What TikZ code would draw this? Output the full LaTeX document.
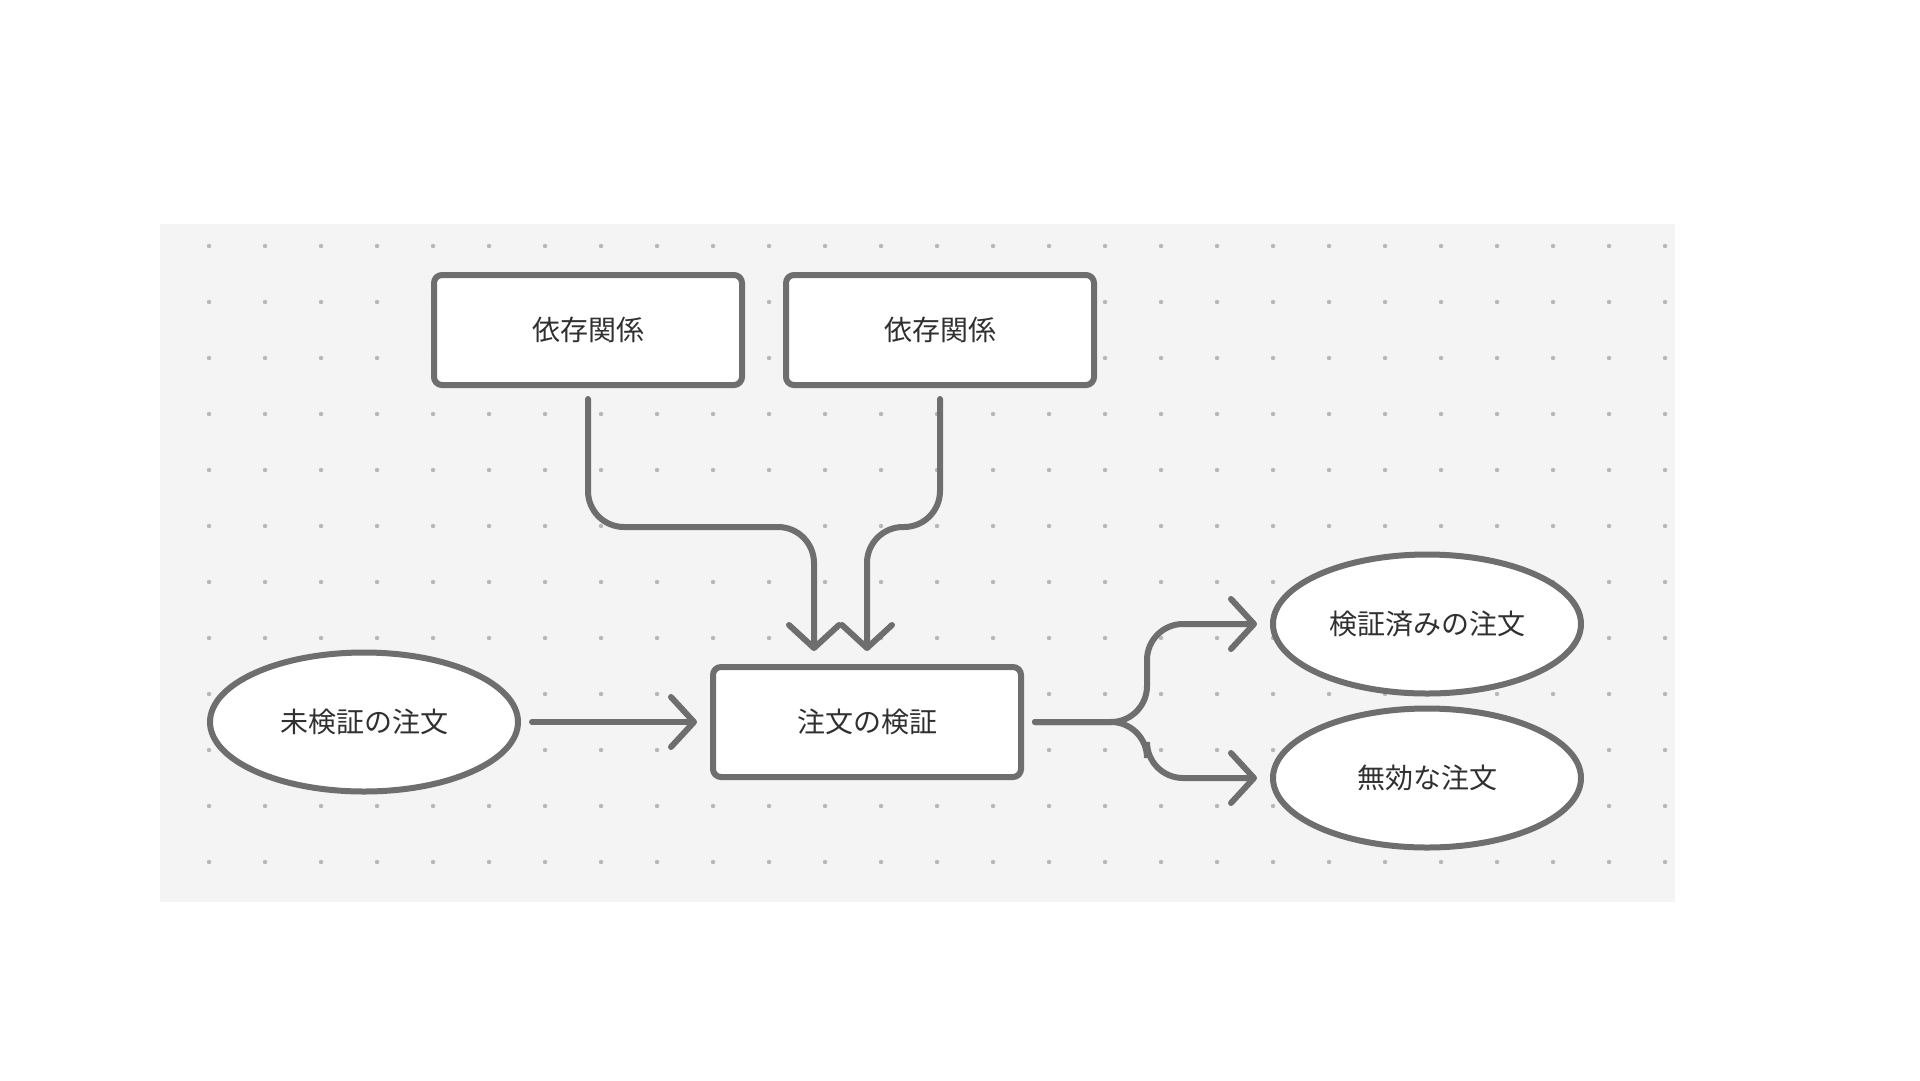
\documentclass[tikz,border=0pt]{standalone}
\usepackage{fontspec}
\setmainfont{Noto Sans CJK JP}
\usetikzlibrary{shapes.geometric, arrows.meta}
\definecolor{panel}{HTML}{F4F4F4}
\definecolor{dotc}{HTML}{B8B8B8}
\definecolor{edge}{HTML}{6E6E6E}
\definecolor{txt}{HTML}{303030}
\begin{document}
\begin{tikzpicture}[x=1pt,y=-1pt,
  label text/.style={font=\fontsize{28}{32}\selectfont, text=txt},
  box/.style={label text, draw=edge, line width=6pt, fill=white, rounded corners=8pt,
    minimum width=308pt, minimum height=110pt, inner sep=0pt},
  oval/.style={label text, ellipse, draw=edge, line width=6pt, fill=white,
    minimum width=308pt, minimum height=139pt, inner sep=0pt},
  conn/.style={draw=edge, line width=6pt, rounded corners=36pt, line cap=round,
    -{Straight Barb[length=23pt,width=50pt,round]}, shorten <=11pt, shorten >=13pt}]
\useasboundingbox (0,0) rectangle (1920,1080);
\fill[panel] (160,224) rectangle (1675,902);
\foreach \i in {0,...,26}
  \foreach \j in {0,...,11}
    \fill[dotc] (209+56*\i, 246+56*\j) circle (2.2pt);

\node[box] (b1) at (588,330) {依存関係};
\node[box] (b2) at (940,330) {依存関係};
\node[box] (c) at (867,722) {注文の検証};
\node[oval] (u) at (364,722) {未検証の注文};
\node[oval] (v) at (1427,624) {検証済みの注文};
\node[oval] (x) at (1427,778) {無効な注文};

\coordinate (j1) at (814,527);
\coordinate (j2) at (867,527);
\coordinate (s) at (1147,722);

\draw[conn] (b1.south) -- (b1.south |- j1) -- (j1) -- (j1 |- c.north);
\draw[conn] (b2.south) -- (b2.south |- j2) -- (j2) -- (j2 |- c.north);
\draw[conn] (u.east) -- (c.west);
\draw[conn] (c.east) -- (s) -- (s |- v.west) -- (v.west);
\draw[conn] (c.east) -- (s) -- (s |- x.west) -- (x.west);
\end{tikzpicture}
\end{document}
